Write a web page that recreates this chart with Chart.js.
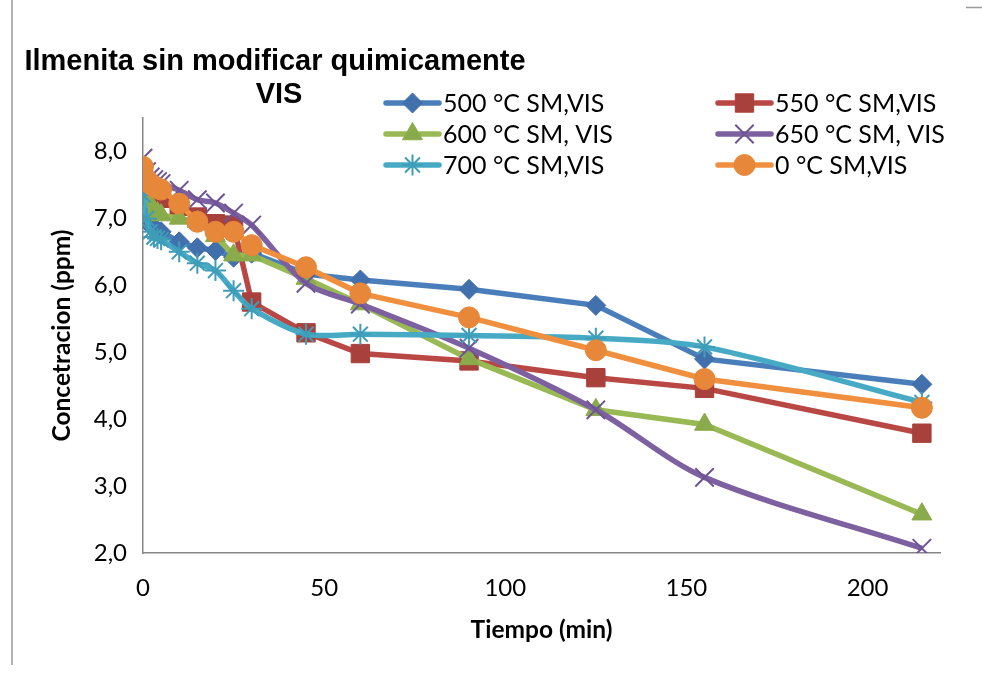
<!DOCTYPE html>
<html><head><meta charset="utf-8">
<script src="https://cdn.jsdelivr.net/npm/chart.js@4.4.0/dist/chart.umd.min.js"></script>
<style>html,body{margin:0;padding:0;background:#fff;overflow:hidden}#wrap{width:982px;height:673px;position:relative}</style>
</head><body><div id="wrap"><canvas id="c" width="982" height="673"></canvas></div>
<script>
// ---- data ----
const titleLines = ['Ilmenita sin modificar quimicamente', 'VIS'];
const xAxisTitle = 'Tiempo (min)';
const yAxisTitle = 'Concetracion (ppm)';
const xTickValues = [0, 50, 100, 150, 200];
const yTickValues = [2, 3, 4, 5, 6, 7, 8];
const times = [0, 1, 2, 3, 4, 5, 10, 15, 20, 25, 30, 45, 60, 90, 125, 155, 215];
const seriesNames = ['500 °C SM,VIS', '550 °C SM,VIS', '600 °C SM, VIS', '650 °C SM, VIS', '700 °C SM,VIS', '0 °C SM,VIS'];
const s500 = [7.30, 7.00, 6.90, 6.85, 6.82, 6.80, 6.65, 6.56, 6.52, 6.42, 6.48, 6.17, 6.08, 5.94, 5.70, 4.90, 4.52];
const s550 = [7.63, 7.52, 7.45, 7.40, 7.35, 7.30, 7.18, 7.02, 6.92, 6.90, 5.75, 5.29, 4.98, 4.87, 4.62, 4.46, 3.79];
const s600 = [7.35, 7.28, 7.20, 7.12, 7.08, 7.05, 7.00, 6.95, 6.74, 6.45, 6.45, 6.10, 5.72, 4.90, 4.14, 3.92, 2.58];
const s650 = [7.90, 7.70, 7.62, 7.58, 7.55, 7.52, 7.42, 7.28, 7.23, 7.08, 6.90, 6.03, 5.72, 5.06, 4.14, 3.13, 2.07];
const s700 = [7.35, 7.00, 6.80, 6.72, 6.70, 6.68, 6.50, 6.33, 6.22, 5.92, 5.65, 5.27, 5.27, 5.25, 5.21, 5.08, 4.25];
const s0   = [7.77, 7.58, 7.52, 7.48, 7.45, 7.43, 7.22, 6.95, 6.80, 6.80, 6.60, 6.27, 5.88, 5.52, 5.03, 4.60, 4.17];
const seriesValues = [s500, s550, s600, s650, s700, s0];

// ---- styles ----
const lineColors  = ['#4A7EBB', '#B94743', '#98B954', '#7D60A0', '#46AAC5', '#F0903F'];
const markColors  = ['#4270AC', '#A8403C', '#8AAB4B', '#6E5494', '#3E9DB8', '#E6873A'];
const markStyles  = ['rectRot', 'rect', 'triangle', 'crossRot', 'star', 'circle'];
const markRadius  = [10, 13, 11.5, 13, 10.5, 10.5];
const markBorder  = [1, 1, 1, 2, 2, 1];
const tensions    = [0, 0, 0, 0.3, 0.3, 0];
const tickFont = {family: 'Lato', size: 24};
const axisTitleFont = {family: 'Lato', size: 24.5, weight: 'bold'};

const datasets = seriesValues.map((vals, i) => ({
  label: seriesNames[i],
  data: times.map((t, k) => ({x: t, y: vals[k]})),
  borderColor: lineColors[i],
  backgroundColor: markColors[i],
  borderWidth: 5.5,
  tension: tensions[i],
  pointStyle: markStyles[i],
  pointRadius: markRadius[i],
  pointBackgroundColor: markColors[i],
  pointBorderColor: markColors[i],
  pointBorderWidth: markBorder[i],
  order: seriesValues.length - i
}));

const fmt = v => Number(v).toFixed(1).replace('.', ',');

const decor = {
  id: 'decor',
  beforeDraw(chart) {
    const ctx = chart.ctx;
    ctx.save();
    ctx.fillStyle = '#fff';
    ctx.fillRect(0, 0, chart.width, chart.height);
    ctx.strokeStyle = '#9a9a9a';
    ctx.lineWidth = 1.5;
    ctx.beginPath();
    ctx.moveTo(12, 0); ctx.lineTo(12, 665);
    ctx.moveTo(966, 7.5); ctx.lineTo(982, 7.5);
    ctx.stroke();
    ctx.restore();
  },
  afterDraw(chart) {
    const ctx = chart.ctx;
    ctx.save();
    // title
    ctx.fillStyle = '#000';
    ctx.font = 'bold 29px "Liberation Sans", Arial, sans-serif';
    ctx.textAlign = 'center';
    ctx.textBaseline = 'alphabetic';
    ctx.fillText(titleLines[0], 275, 70);
    ctx.fillText(titleLines[1], 279, 103);
    // legend
    const pos = [[386, 103], [718, 103], [386, 134], [718, 134], [386, 165], [718, 165]];
    chart.data.datasets.forEach((ds, i) => {
      const [x, y] = pos[i];
      ctx.strokeStyle = ds.borderColor;
      ctx.lineWidth = 5.5;
      ctx.lineCap = 'round';
      ctx.beginPath(); ctx.moveTo(x, y); ctx.lineTo(x + 53, y); ctx.stroke();
      ctx.lineCap = 'butt';
      ctx.fillStyle = ds.pointBackgroundColor;
      ctx.strokeStyle = ds.pointBorderColor;
      ctx.lineWidth = ds.pointBorderWidth;
      if (Chart.helpers && Chart.helpers.drawPoint) {
        Chart.helpers.drawPoint(ctx, {pointStyle: ds.pointStyle, radius: ds.pointRadius, rotation: 0, borderWidth: ds.pointBorderWidth}, x + 26.5, y);
      }
      ctx.fillStyle = '#000';
      ctx.font = '25px Lato';
      ctx.textAlign = 'left';
      ctx.textBaseline = 'middle';
      ctx.fillText(ds.label, x + 57, y + 1);
    });
    ctx.restore();
  }
};

new Chart(document.getElementById('c'), {
  type: 'line',
  data: {datasets},
  plugins: [decor],
  options: {
    responsive: false,
    animation: false,
    devicePixelRatio: 1,
    events: [],
    layout: {padding: {top: 118, left: 0, right: 42, bottom: 0}},
    plugins: {legend: {display: false}, title: {display: false}, tooltip: {enabled: false}},
    scales: {
      x: {
        type: 'linear', min: 0, max: 220,
        afterBuildTicks(s) { s.ticks = xTickValues.map(v => ({value: v})); },
        afterFit(s) { s.height = 120; },
        ticks: {padding: 20.5, font: tickFont, color: '#000', maxRotation: 0, autoSkip: false, callback: v => String(v)},
        grid: {drawOnChartArea: false, drawTicks: false},
        border: {display: true, color: '#868686', width: 1.5},
        title: {display: true, text: xAxisTitle, font: axisTitleFont, color: '#000', padding: {top: 0, bottom: 28}}
      },
      y: {
        type: 'linear', min: 2, max: 8.5,
        afterBuildTicks(s) { s.ticks = yTickValues.map(v => ({value: v})); },
        afterFit(s) { s.width = 143; },
        ticks: {padding: 16, font: tickFont, color: '#000', callback: v => fmt(v)},
        grid: {drawOnChartArea: false, drawTicks: false},
        border: {display: true, color: '#868686', width: 1.5},
        title: {display: true, text: yAxisTitle, font: axisTitleFont, color: '#000', padding: {top: 47, bottom: 0}}
      }
    }
  }
});
</script></body></html>
